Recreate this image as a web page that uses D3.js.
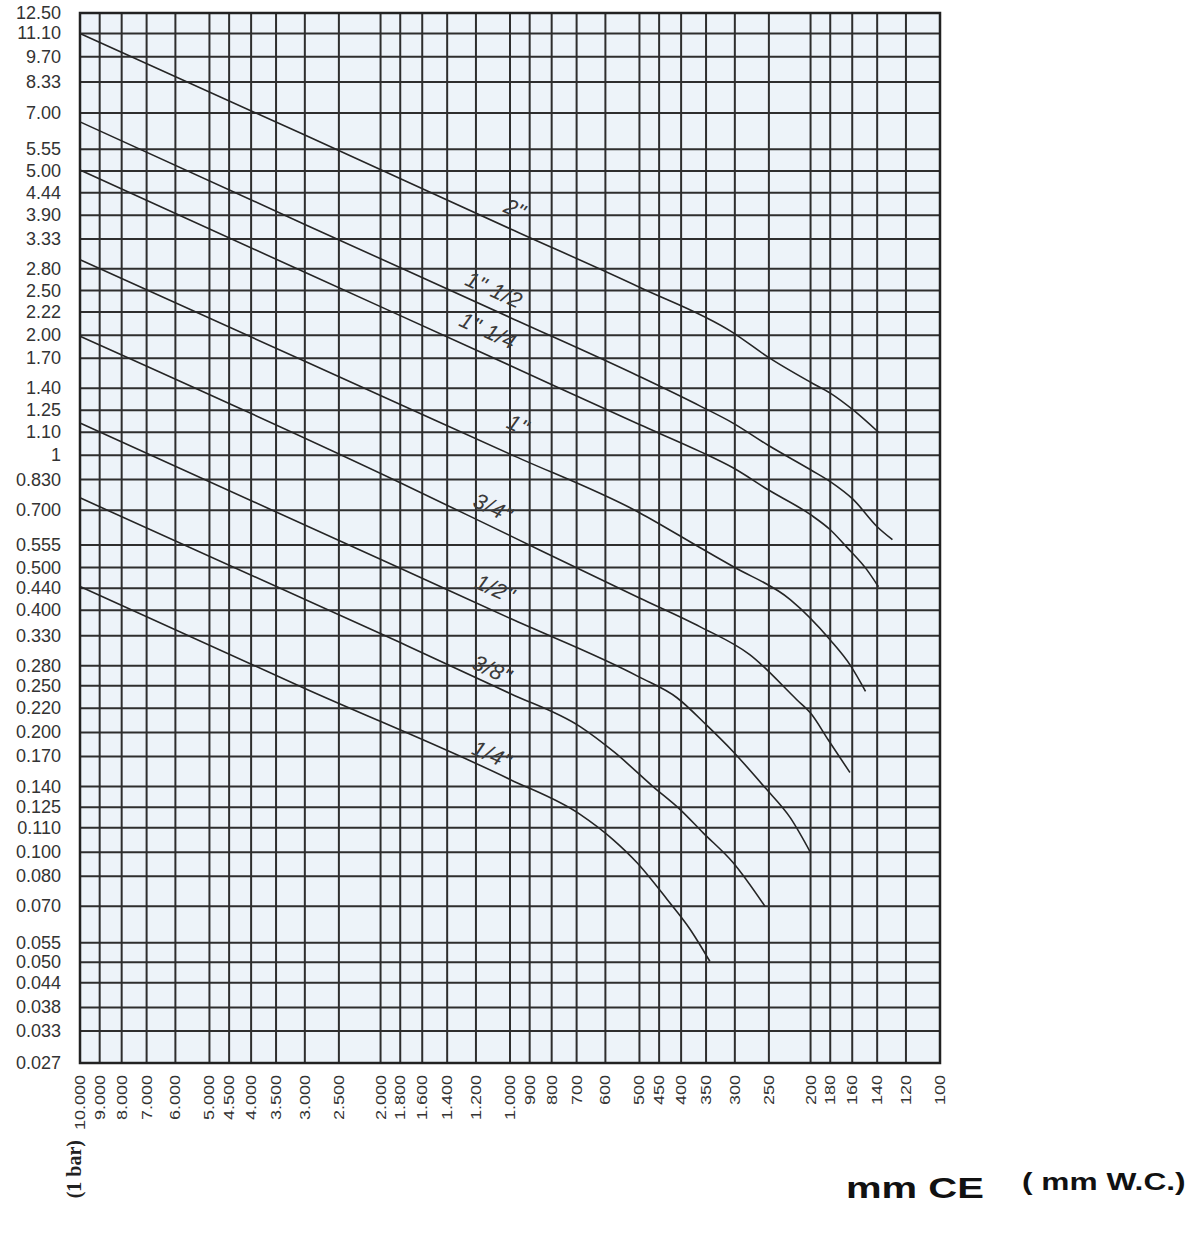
<!DOCTYPE html>
<html><head><meta charset="utf-8">
<script src="https://cdn.jsdelivr.net/npm/d3@7"></script>
<style>body{margin:0;background:#fff}svg{display:block}</style>
</head><body>
<svg id="c" width="1197" height="1236"></svg>
<script>
// ---- data ----
const xTicks = [10000,9000,8000,7000,6000,5000,4500,4000,3500,3000,2500,2000,1800,1600,1400,1200,1000,900,800,700,600,500,450,400,350,300,250,200,180,160,140,120,100];
// grid line values as drawn in the picture, and the (rounded) labels printed beside them
const yGrid  = [12.5,11.1,9.7,8.38,7.0,5.67,5.0,4.41,3.87,3.37,2.84,2.5,2.21,1.93,1.69,1.42,1.25,1.10,0.963,0.836,0.70,0.572,0.502,0.445,0.392,0.338,0.284,0.253,0.222,0.193,0.168,0.141,0.125,0.111,0.0963,0.0838,0.0705,0.057,0.0509,0.0452,0.0392,0.0342,0.0284];
const yTicks = ["12.50","11.10","9.70","8.33","7.00","5.55","5.00","4.44","3.90","3.33","2.80","2.50","2.22","2.00","1.70","1.40","1.25","1.10","1","0.830","0.700","0.555","0.500","0.440","0.400","0.330","0.280","0.250","0.220","0.200","0.170","0.140","0.125","0.110","0.100","0.080","0.070","0.055","0.050","0.044","0.038","0.033","0.027"];
const seriesNames = ['2"', '1" 1/2', '1" 1/4', '1"', '3/4"', '1/2"', '3/8"', '1/4"'];
const s2   = [[10000,11.1],[3000,6.16],[1000,3.58],[500,2.55],[303,1.96],[251,1.70],[200,1.47],[180,1.38],[159,1.25],[139,1.10]];
const s112 = [[10000,6.65],[3000,3.67],[1000,2.14],[500,1.52],[361,1.28],[303,1.16],[251,1.02],[200,0.885],[180,0.826],[159,0.744],[140,0.636],[129,0.590]];
const s114 = [[10000,5.03],[3000,2.78],[1000,1.62],[500,1.15],[361,0.983],[303,0.895],[251,0.788],[200,0.682],[180,0.625],[165,0.566],[148,0.496],[139,0.449]];
const s1   = [[10000,2.99],[3000,1.66],[1000,0.969],[500,0.690],[361,0.563],[303,0.505],[223,0.417],[180,0.330],[162,0.286],[149,0.245]];
const s34  = [[10000,1.92],[1800,0.821],[1000,0.604],[500,0.421],[361,0.356],[277,0.303],[215,0.233],[200,0.216],[182,0.185],[162,0.153]];
const s12  = [[10000,1.16],[1800,0.50],[1000,0.374],[500,0.266],[409,0.236],[348,0.2007],[303,0.1728],[255,0.140],[223,0.1178],[200,0.0962]];
const s38  = [[10000,0.752],[1800,0.325],[1000,0.242],[687,0.1996],[570,0.1716],[465,0.141],[402,0.1234],[356,0.108],[303,0.0908],[255,0.0703]];
const s14  = [[10000,0.450],[3000,0.249],[1000,0.147],[687,0.120],[576,0.1037],[507,0.0908],[431,0.0733],[381,0.0616],[343,0.0512]];
const seriesData = [s2, s112, s114, s1, s34, s12, s38, s14];
// where each curve name is written (mm CE, flow)
const labelPos = [[974,4.01],[1089,2.51],[1125,1.98],[958,1.149],[1095,0.710],[1084,0.444],[1101,0.278],[1101,0.1696]];

// ---- chart ----
const svg = d3.select('#c');
svg.append('rect').attr('width',1197).attr('height',1236).attr('fill','#fff');
const x = d3.scaleLog().domain([10000,100]).range([80,940]);
const y = d3.scaleLog().domain([12.5,0.0284]).range([13,1063]);
const [x0,x1] = x.range(), [y0,y1] = y.range();

svg.append('rect').attr('x',x0).attr('y',y0).attr('width',x1-x0).attr('height',y1-y0).attr('fill','#edf3f9');

const g = svg.append('g');
g.selectAll('line.v').data(xTicks).join('line').attr('class','v')
  .attr('x1',d=>x(d)).attr('x2',d=>x(d)).attr('y1',y0).attr('y2',y1)
  .attr('stroke','#2e2e2e').attr('stroke-width',2);
g.selectAll('line.h').data(yGrid).join('line').attr('class','h')
  .attr('y1',d=>y(d)).attr('y2',d=>y(d)).attr('x1',x0).attr('x2',x1)
  .attr('stroke','#2e2e2e').attr('stroke-width',2);
svg.append('rect').attr('x',x0).attr('y',y0).attr('width',x1-x0).attr('height',y1-y0)
  .attr('fill','none').attr('stroke','#222').attr('stroke-width',2.5);

// y labels
svg.append('g').selectAll('text').data(yTicks).join('text')
  .attr('x',61).attr('y',(d,i)=>y(yGrid[i])).attr('text-anchor','end').attr('dominant-baseline','central')
  .attr('font-family','Liberation Sans, Arial, sans-serif').attr('font-size',18).attr('fill','#333')
  .text(d=>d);

// x labels
const loc = d3.formatLocale({decimal:',', thousands:'.', grouping:[3], currency:['','']});
const fmt = loc.format(',');
svg.append('g').selectAll('text').data(xTicks).join('text')
  .attr('transform',d=>`translate(${x(d)},1075) rotate(-90) scale(1.2,1)`)
  .attr('text-anchor','end').attr('dominant-baseline','central')
  .attr('font-family','Liberation Sans, Arial, sans-serif').attr('font-size',15).attr('fill','#333')
  .text(d=>fmt(d));

// curves
const line = d3.line().x(d=>x(d[0])).y(d=>y(d[1])).curve(d3.curveMonotoneX);
svg.append('g').selectAll('path').data(seriesData).join('path')
  .attr('d',line).attr('fill','none').attr('stroke','#252525').attr('stroke-width',1.6);

// curve labels, turned to follow their curve
function angleAt(data, v){
  for(let i=0;i<data.length-1;i++){
    const a=data[i], b=data[i+1];
    if(v<=a[0] && v>=b[0]){
      return Math.atan2(y(b[1])-y(a[1]), x(b[0])-x(a[0]))*180/Math.PI;
    }
  }
  return 0;
}
svg.append('g').selectAll('text').data(seriesNames).join('text')
  .attr('transform',(d,i)=>`translate(${x(labelPos[i][0])},${y(labelPos[i][1])}) rotate(${angleAt(seriesData[i],labelPos[i][0])})`)
  .attr('text-anchor','middle').attr('dominant-baseline','central')
  .attr('font-family','Liberation Sans, Arial, sans-serif').attr('font-style','italic')
  .attr('font-size',22).attr('letter-spacing',0.5).attr('fill','#3a3a3a')
  .text(d=>d);

// axis titles
svg.append('text').attr('transform','translate(74,1140) rotate(-90)')
  .attr('text-anchor','end').attr('dominant-baseline','central')
  .attr('font-family','Liberation Serif, Times New Roman, serif').attr('font-weight','bold')
  .attr('font-size',20).attr('fill','#222').text('(1 bar)');
svg.append('text').attr('transform','translate(846,1198) scale(1.38,1)')
  .attr('font-family','Liberation Sans, Arial, sans-serif').attr('font-weight','bold')
  .attr('font-size',29).attr('fill','#111').text('mm CE');
svg.append('text').attr('transform','translate(1022,1190) scale(1.32,1)')
  .attr('font-family','Liberation Sans, Arial, sans-serif').attr('font-weight','bold')
  .attr('font-size',24).attr('fill','#111').text('( mm W.C.)');
</script>
</body></html>
